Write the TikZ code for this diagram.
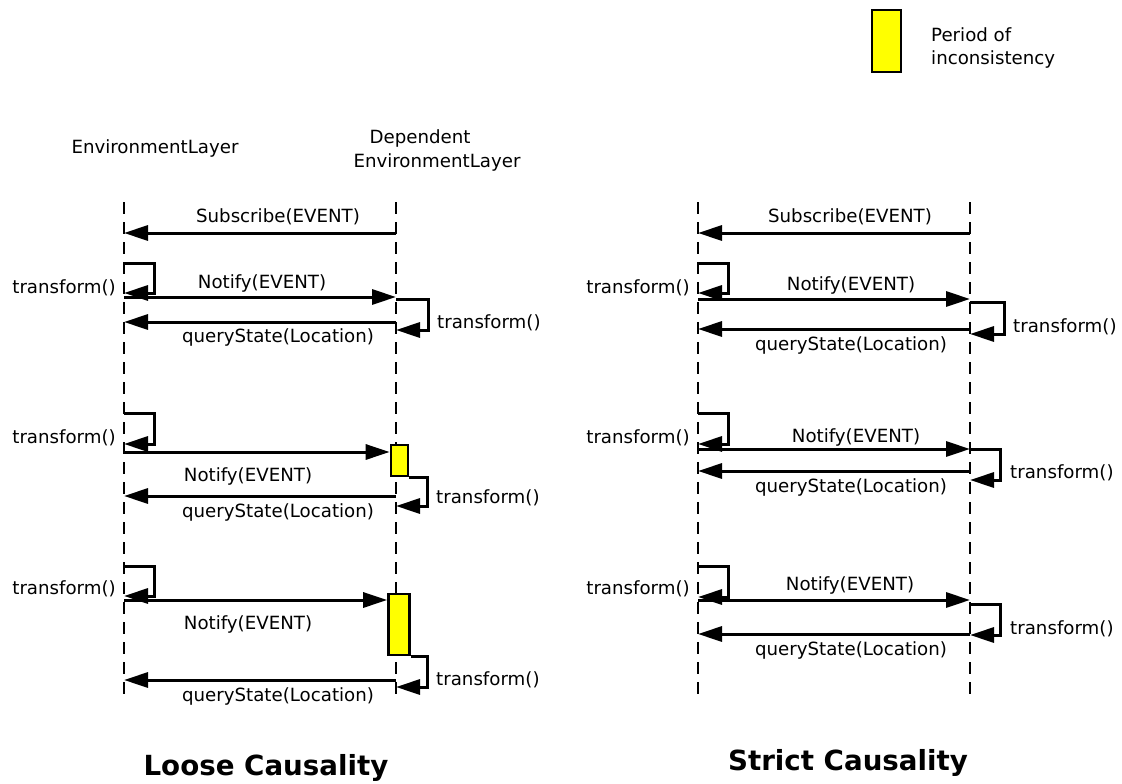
\documentclass[tikz,border=0pt]{standalone}
\usepackage{fontspec}
\setmainfont{DejaVu Sans}
\usetikzlibrary{arrows.meta}
\definecolor{busyyellow}{RGB}{255,255,0}
\begin{document}
\begin{tikzpicture}[x=1pt,y=-1pt,
  every node/.style={font=\fontsize{18.2}{22}\selectfont, inner sep=0pt},
  life/.style={line width=1.3pt, dash pattern=on 12pt off 8pt},
  msg/.style={line width=3pt, -{Triangle[length=24pt,width=15pt]}},
  selfloop/.style={line width=3pt, -{Triangle[length=24pt,width=15pt]}},
  busy/.style={draw, line width=2.6pt, fill=busyyellow},
  title/.style={font=\fontsize{27.7}{33}\selectfont\bfseries}]
\useasboundingbox (0,0) rectangle (1122,784);
% lifelines
\coordinate (L1) at (124,0); \coordinate (L2) at (396,0);
\coordinate (R1) at (698,0); \coordinate (R2) at (970,0);
\coordinate (L1t) at (124,202); \coordinate (L1b) at (124,700);
\coordinate (L2t) at (396,202); \coordinate (L2b) at (396,700);
\coordinate (R1t) at (698,202); \coordinate (R1b) at (698,700);
\coordinate (R2t) at (970,202); \coordinate (R2b) at (970,700);
\draw[life] (L1t) -- (L1b);
\draw[life] (L2t) -- (L2b);
\draw[life] (R1t) -- (R1b);
\draw[life] (R2t) -- (R2b);
% headers
\node (h1) at (155,148) {EnvironmentLayer};
\node (h2a) at (420,138) {Dependent};
\node (h2b) at (437,162) {EnvironmentLayer};
% legend
\node[busy, minimum width=29pt, minimum height=62pt] (leg) at (886.5,41) {};
\node[anchor=west] (lega) at (931,35) {Period of};
\node[anchor=west] (legb) at (931,59) {inconsistency};
% ---------- Loose causality ----------
% block 1
\draw[msg] (L2 |- 0,233) -- (L1 |- 0,233);
\node (ls1) at (278,217) {Subscribe(EVENT)};
\draw[selfloop] (L1 |- 0,263) -- (154,263) -- (154,293) -- (L1 |- 0,293);
\node[anchor=east] (lt1) at (116,288) {transform()};
\draw[msg] (L1 |- 0,297) -- (L2 |- 0,297);
\node (ln1) at (262,283) {Notify(EVENT)};
\draw[selfloop] (L2 |- 0,299) -- (428,299) -- (428,330) -- (L2 |- 0,330);
\node[anchor=west] (lt1b) at (437,323) {transform()};
\draw[msg] (L2 |- 0,322) -- (L1 |- 0,322);
\node (lq1) at (278,337) {queryState(Location)};
% block 2
\draw[selfloop] (L1 |- 0,413) -- (154,413) -- (154,444) -- (L1 |- 0,444);
\node[anchor=east] (lt2) at (116,438) {transform()};
\node[busy, minimum width=17pt, minimum height=31pt] (lb2) at (399.5,460.5) {};
\draw[msg] (L1 |- 0,452) -- (lb2.west |- 0,452);
\draw[selfloop] (lb2.south east) -- (lb2.south east -| 427,0) -- (427,506) -- (L2 |- 0,506);
\node[anchor=west] (lt2b) at (436,498) {transform()};
\draw[msg] (L2 |- 0,496) -- (L1 |- 0,496);
\node (ln2) at (248,476) {Notify(EVENT)};
\node (lq2) at (278,512) {queryState(Location)};
% block 3
\draw[selfloop] (L1 |- 0,566) -- (154,566) -- (154,596) -- (L1 |- 0,596);
\node[anchor=east] (lt3) at (116,589) {transform()};
\node[busy, minimum width=21pt, minimum height=61pt] (lb3) at (399,624.5) {};
\draw[msg] (L1 |- 0,600) -- (lb3.west |- 0,600);
\node (ln3) at (248,624) {Notify(EVENT)};
\draw[selfloop] (lb3.south east) -- (lb3.south east -| 427,0) -- (427,687) -- (L2 |- 0,687);
\node[anchor=west] (lt3b) at (436,680) {transform()};
\draw[msg] (L2 |- 0,680) -- (L1 |- 0,680);
\node (lq3) at (278,696) {queryState(Location)};
\node[title] (tl) at (266,768) {Loose Causality};
% ---------- Strict causality ----------
% block 1
\draw[msg] (R2 |- 0,233) -- (R1 |- 0,233);
\node (rs1) at (850,217) {Subscribe(EVENT)};
\draw[selfloop] (R1 |- 0,263) -- (728,263) -- (728,293) -- (R1 |- 0,293);
\node[anchor=east] (rt1) at (690,288) {transform()};
\draw[msg] (R1 |- 0,299) -- (R2 |- 0,299);
\node (rn1) at (851,285) {Notify(EVENT)};
\draw[selfloop] (R2 |- 0,302) -- (1004,302) -- (1004,334) -- (R2 |- 0,334);
\node[anchor=west] (rt1b) at (1013,327) {transform()};
\draw[msg] (R2 |- 0,329) -- (R1 |- 0,329);
\node (rq1) at (851,345) {queryState(Location)};
% block 2
\draw[selfloop] (R1 |- 0,413) -- (728,413) -- (728,444) -- (R1 |- 0,444);
\node[anchor=east] (rt2) at (690,438) {transform()};
\draw[msg] (R1 |- 0,449) -- (R2 |- 0,449);
\node (rn2) at (856,437) {Notify(EVENT)};
\draw[selfloop] (R2 |- 0,449) -- (1000,449) -- (1000,480) -- (R2 |- 0,480);
\node[anchor=west] (rt2b) at (1010,473) {transform()};
\draw[msg] (R2 |- 0,471) -- (R1 |- 0,471);
\node (rq2) at (851,487) {queryState(Location)};
% block 3
\draw[selfloop] (R1 |- 0,566) -- (728,566) -- (728,597) -- (R1 |- 0,597);
\node[anchor=east] (rt3) at (690,589) {transform()};
\draw[msg] (R1 |- 0,600) -- (R2 |- 0,600);
\node (rn3) at (850,585) {Notify(EVENT)};
\draw[selfloop] (R2 |- 0,604) -- (1000,604) -- (1000,635) -- (R2 |- 0,635);
\node[anchor=west] (rt3b) at (1010,629) {transform()};
\draw[msg] (R2 |- 0,634) -- (R1 |- 0,634);
\node (rq3) at (851,650) {queryState(Location)};
\node[title] (tr) at (848,763) {Strict Causality};
\end{tikzpicture}
\end{document}
